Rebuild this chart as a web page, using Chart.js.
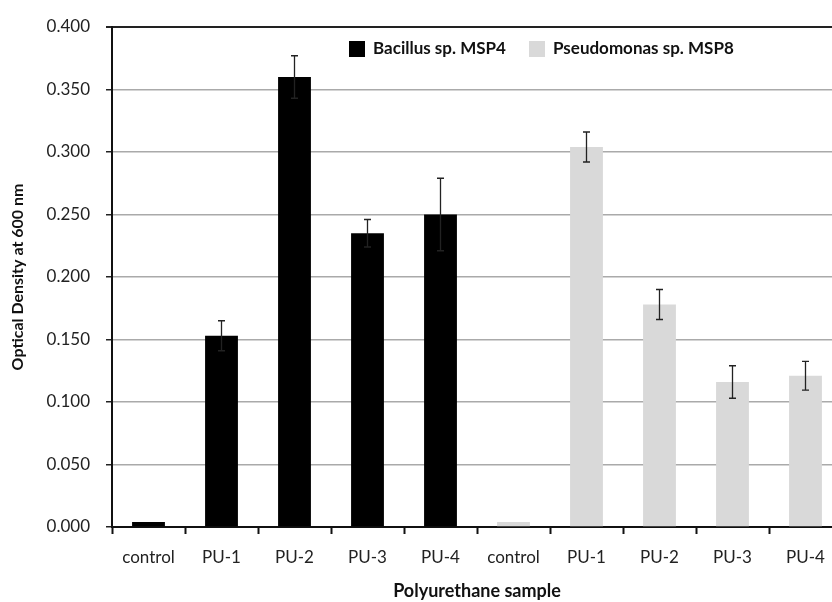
<!DOCTYPE html>
<html>
<head>
<meta charset="utf-8">
<script src="https://cdn.jsdelivr.net/npm/chart.js@4"></script>
<style>
  html, body { margin: 0; padding: 0; overflow: hidden; background: #fff; }
  canvas { display: block; }
</style>
</head>
<body>
<canvas id="odChart" width="842" height="602"></canvas>
<script>
const categories = ["control", "PU-1", "PU-2", "PU-3", "PU-4", "control", "PU-1", "PU-2", "PU-3", "PU-4"];
const bacillusValues = [0.004, 0.153, 0.360, 0.235, 0.250, null, null, null, null, null];
const bacillusErrors = [0, 0.012, 0.017, 0.011, 0.029, null, null, null, null, null];
const pseudomonasValues = [null, null, null, null, null, 0.004, 0.304, 0.178, 0.116, 0.121];
const pseudomonasErrors = [null, null, null, null, null, 0, 0.012, 0.012, 0.013, 0.0115];
const yTicks = [0, 0.05, 0.1, 0.15, 0.2, 0.25, 0.3, 0.35, 0.4];

const FONT = "Lato";

// draws the error bars for each dataset
const errorBars = {
  id: "errorBars",
  afterDatasetsDraw(chart) {
    const ctx = chart.ctx;
    const y = chart.scales.y;
    chart.data.datasets.forEach((ds, i) => {
      const meta = chart.getDatasetMeta(i);
      meta.data.forEach((bar, j) => {
        const v = ds.data[j];
        const e = ds.errors[j];
        if (v == null || !e) return;
        const top = y.getPixelForValue(v + e);
        const bot = y.getPixelForValue(v - e);
        ctx.save();
        ctx.strokeStyle = "#222";
        ctx.lineWidth = 1.3;
        ctx.beginPath();
        ctx.moveTo(bar.x, top);
        ctx.lineTo(bar.x, bot);
        ctx.moveTo(bar.x - 3.5, top);
        ctx.lineTo(bar.x + 3.5, top);
        ctx.moveTo(bar.x - 3.5, bot);
        ctx.lineTo(bar.x + 3.5, bot);
        ctx.stroke();
        ctx.restore();
      });
    });
  },
};

// legend sits inside the plot area
const innerLegend = {
  id: "innerLegend",
  afterDraw(chart) {
    const ctx = chart.ctx;
    const area = chart.chartArea;
    let x = area.left + 237;
    const y = area.top + 22;
    ctx.save();
    ctx.font = "bold 17px " + FONT;
    ctx.textBaseline = "middle";
    chart.data.datasets.forEach((ds) => {
      ctx.fillStyle = ds.backgroundColor;
      ctx.fillRect(x, y - 8, 16, 16);
      ctx.fillStyle = "#111";
      ctx.fillText(ds.label, x + 24, y);
      x += 180;
    });
    ctx.restore();
  },
};

new Chart(document.getElementById("odChart"), {
  type: "bar",
  data: {
    labels: categories,
    datasets: [
      {
        label: "Bacillus sp. MSP4",
        data: bacillusValues,
        errors: bacillusErrors,
        backgroundColor: "#000000",
      },
      {
        label: "Pseudomonas sp. MSP8",
        data: pseudomonasValues,
        errors: pseudomonasErrors,
        backgroundColor: "#d9d9d9",
      },
    ],
  },
  options: {
    responsive: false,
    animation: false,
    grouped: false,
    barPercentage: 0.45,
    categoryPercentage: 1,
    layout: { padding: { top: 27, right: 0, left: 8, bottom: 0 } },
    plugins: {
      legend: { display: false },
      tooltip: { enabled: false },
    },
    scales: {
      x: {
        afterFit: (s) => { s.height = 75; },
        border: { color: "#111", width: 2 },
        grid: {
          offset: true,
          drawOnChartArea: false,
          tickLength: 7,
          tickColor: "#111",
          tickWidth: 2,
        },
        ticks: {
          color: "#222",
          padding: 13,
          font: { family: FONT, size: 17 },
          maxRotation: 0,
        },
        title: {
          display: true,
          text: "Polyurethane sample",
          color: "#111",
          font: { family: FONT, size: 18, weight: "bold" },
          padding: { top: 4, bottom: 0 },
        },
      },
      y: {
        min: 0,
        max: 0.4,
        afterFit: (s) => { s.width = 104; },
        afterBuildTicks: (s) => { s.ticks = yTicks.map((v) => ({ value: v })); },
        border: { color: "#111", width: 2 },
        grid: {
          color: (c) => (c.tick && c.tick.value === 0.4 ? "#222" : "#aaa"),
          lineWidth: (c) => (c.tick && c.tick.value === 0.4 ? 2 : 1.5),
          tickLength: 6,
          tickColor: "#222",
        },
        ticks: {
          color: "#222",
          padding: 16,
          font: { family: FONT, size: 17 },
          callback: (v) => Number(v).toFixed(3),
        },
        title: {
          display: true,
          text: "Optical Density at 600 nm",
          color: "#111",
          font: { family: FONT, size: 16, weight: "bold" },
          padding: { top: 0, bottom: 8 },
        },
      },
    },
  },
  plugins: [errorBars, innerLegend],
});
</script>
</body>
</html>
